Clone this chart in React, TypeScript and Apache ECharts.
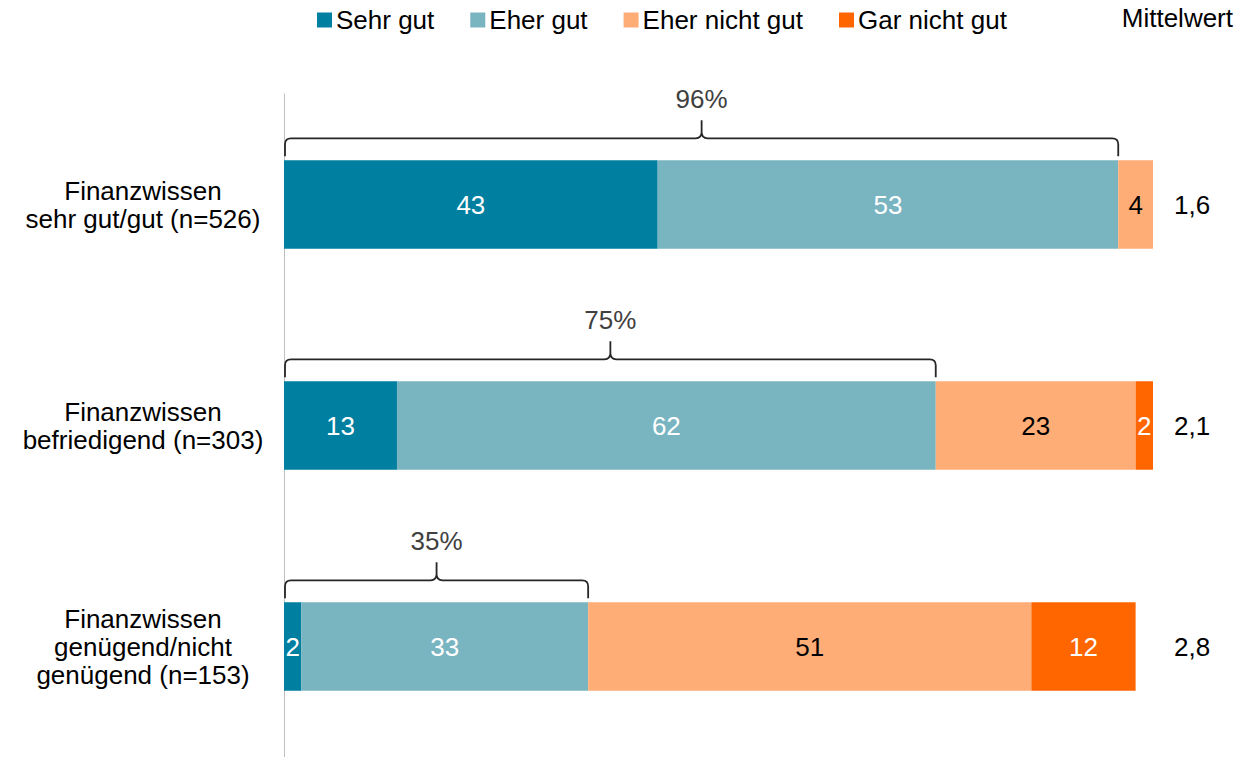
import React, { useEffect, useRef } from "react";
import * as echarts from "echarts";

const categories = [
  "Finanzwissen\nsehr gut/gut (n=526)",
  "Finanzwissen\nbefriedigend (n=303)",
  "Finanzwissen\ngenügend/nicht\ngenügend (n=153)",
];
const sehrGut = [43, 13, 2];
const eherGut = [53, 62, 33];
const eherNichtGut = [4, 23, 51];
const garNichtGut = [0, 2, 12];
const mittelwert = ["1,6", "2,1", "2,8"];
const positivLabels = ["96%", "75%", "35%"];

const FONT = "Liberation Sans, Arial, sans-serif";
const FS = 26;

export default function App() {
  const ref = useRef<HTMLDivElement>(null);
  useEffect(() => {
    const chart = echarts.init(ref.current!, null, { renderer: "svg" });
    const mkLabel = (color: string) => ({
      show: true,
      position: "inside",
      color,
      fontSize: FS,
      fontFamily: FONT,
      formatter: (p: any) => (p.value ? String(p.value) : ""),
    });
    const braceData = categories.map((_, i) => [0, sehrGut[i] + eherGut[i], i]);
    chart.setOption({
      animation: false,
      textStyle: { fontFamily: FONT },
      title: {
        text: "Mittelwert",
        right: 3,
        top: 0,
        textStyle: { fontSize: FS, fontWeight: "normal", color: "#000", fontFamily: FONT },
      },
      legend: {
        left: 312,
        top: 2,
        itemWidth: 15,
        itemHeight: 15,
        itemGap: 36,
        icon: "rect",
        textStyle: { fontSize: FS, color: "#000", fontFamily: FONT, padding: [0, 0, 0, -1] },
        data: ["Sehr gut", "Eher gut", "Eher nicht gut", "Gar nicht gut"],
      },
      grid: { left: 284, right: 88, top: 94, bottom: 0, containLabel: false },
      xAxis: {
        type: "value",
        min: 0,
        max: 100,
        show: false,
      },
      yAxis: [
        {
          type: "category",
          data: categories,
          inverse: true,
          axisLine: { show: true, lineStyle: { color: "#bfbfbf", width: 1 } },
          axisTick: { show: false },
          axisLabel: {
            margin: 141,
            fontSize: FS,
            lineHeight: 28,
            color: "#000",
            fontFamily: FONT,
            align: "center",
          },
        },
        {
          type: "category",
          data: mittelwert,
          inverse: true,
          position: "right",
          axisLine: { show: false },
          axisTick: { show: false },
          axisLabel: { margin: 21, fontSize: FS, color: "#000", fontFamily: FONT },
        },
      ],
      series: [
        {
          name: "Sehr gut",
          type: "bar",
          stack: "s",
          barWidth: "40%",
          data: sehrGut,
          itemStyle: { color: "#007FA0" },
          label: mkLabel("#fff"),
        },
        {
          name: "Eher gut",
          type: "bar",
          stack: "s",
          data: eherGut,
          itemStyle: { color: "#79B4C1" },
          label: mkLabel("#fff"),
        },
        {
          name: "Eher nicht gut",
          type: "bar",
          stack: "s",
          data: eherNichtGut,
          itemStyle: { color: "#FFAD76" },
          label: mkLabel("#000"),
        },
        {
          name: "Gar nicht gut",
          type: "bar",
          stack: "s",
          data: garNichtGut,
          itemStyle: { color: "#FF6600" },
          label: mkLabel("#fff"),
        },
        {
          type: "custom",
          clip: false,
          silent: true,
          data: braceData,
          encode: { x: [0, 1], y: 2 },
          renderItem: (params: any, api: any) => {
            const i = api.value(2);
            const p0 = api.coord([api.value(0), i]);
            const p1 = api.coord([api.value(1), i]);
            const band = api.size([0, 1])[1];
            const top = p0[1] - band * 0.2;
            const x0 = p0[0] + 1;
            const x1 = p1[0];
            const xm = (x0 + x1) / 2;
            const yEnd = top - 4;
            const yH = top - 22;
            const yP = top - 40;
            const r = 6;
            const d =
              `M${x0},${yEnd} L${x0},${yH + r} Q${x0},${yH} ${x0 + r},${yH} ` +
              `L${xm - r},${yH} Q${xm},${yH} ${xm},${yH - r} L${xm},${yP} ` +
              `L${xm},${yH - r} Q${xm},${yH} ${xm + r},${yH} ` +
              `L${x1 - r},${yH} Q${x1},${yH} ${x1},${yH + r} L${x1},${yEnd}`;
            return {
              type: "group",
              children: [
                {
                  type: "path",
                  shape: { pathData: d },
                  style: { fill: "none", stroke: "#262626", lineWidth: 1.8 },
                },
                {
                  type: "text",
                  x: xm,
                  y: yP - 21,
                  style: {
                    text: positivLabels[i],
                    fontSize: FS,
                    fontFamily: FONT,
                    fill: "#404040",
                    align: "center",
                    verticalAlign: "middle",
                  },
                },
              ],
            };
          },
        },
      ],
    });
    return () => chart.dispose();
  }, []);
  return (
    <div
      ref={ref}
      style={{ position: "fixed", left: 0, top: 0, width: 1241, height: 757, background: "#fff" }}
    />
  );
}
